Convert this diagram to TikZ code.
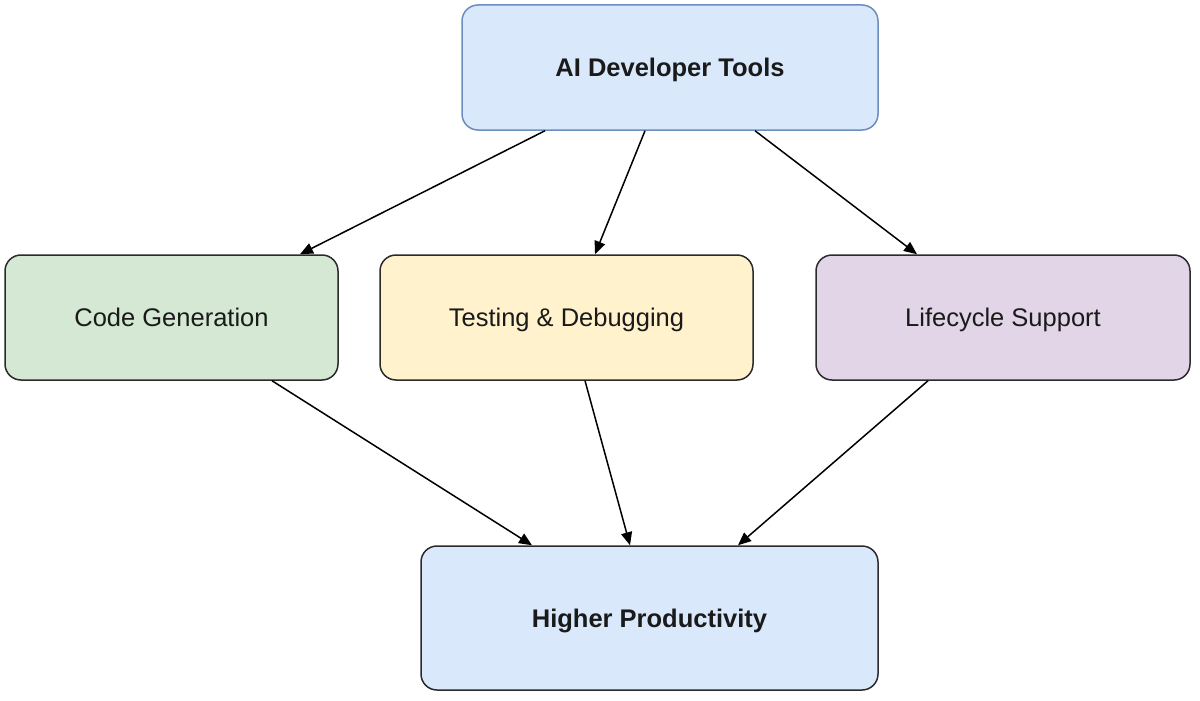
\documentclass[tikz,border=0pt]{standalone}
\usepackage{fontspec}
\setmainfont{Liberation Sans}
\usetikzlibrary{arrows.meta,calc}
\definecolor{bluefill}{HTML}{DAE8FC}
\definecolor{blueline}{HTML}{6C8EBF}
\definecolor{greenfill}{HTML}{D5E8D4}
\definecolor{yellowfill}{HTML}{FFF2CC}
\definecolor{purplefill}{HTML}{E1D5E7}
\definecolor{darkline}{HTML}{2B2B2B}
\definecolor{txt}{HTML}{1A1A1A}
\tikzset{
  box/.style={draw=darkline, line width=1.5pt, rounded corners=16pt, inner sep=0pt,
    font=\fontsize{25.5}{30}\selectfont, text=txt, text height=18pt, text depth=0pt},
  link/.style={draw=black, line width=1.5pt, -{Triangle[length=13pt,width=11pt]}}
}
\begin{document}
\begin{tikzpicture}[x=1pt,y=-1pt]
\useasboundingbox[fill=white] (0,0) rectangle (1200,701);
\node[box, draw=blueline, fill=bluefill, minimum width=416pt, minimum height=125pt, font=\fontsize{25.5}{30}\selectfont\bfseries] (top) at (670,67.5) {AI Developer Tools};
\node[box, fill=greenfill, minimum width=333pt, minimum height=125pt] (code) at (171.5,317.5) {Code Generation};
\node[box, fill=yellowfill, minimum width=373pt, minimum height=125pt] (test) at (566.5,317.5) {Testing \& Debugging};
\node[box, fill=purplefill, minimum width=374pt, minimum height=125pt] (life) at (1003,317.5) {Lifecycle Support};
\node[box, fill=bluefill, minimum width=457pt, minimum height=144pt, font=\fontsize{25.5}{30}\selectfont\bfseries] (prod) at (649.5,618) {Higher Productivity};
\draw[link] ([xshift=-125pt]top.south) -- ([xshift=128.5pt]code.north);
\draw[link] ([xshift=-25pt]top.south) -- ([xshift=28.5pt]test.north);
\draw[link] ([xshift=85pt]top.south) -- ([xshift=-86pt]life.north);
\draw[link] ([xshift=100.5pt]code.south) -- ([xshift=-117.5pt]prod.north);
\draw[link] ([xshift=18.5pt]test.south) -- ([xshift=-19.5pt]prod.north);
\draw[link] ([xshift=-75pt]life.south) -- ([xshift=88.5pt]prod.north);
\end{tikzpicture}
\end{document}
